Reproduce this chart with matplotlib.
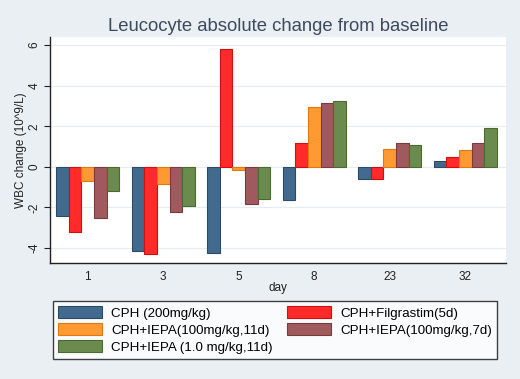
import matplotlib
matplotlib.use("Agg")
import matplotlib.pyplot as plt
import numpy as np
from matplotlib.patches import Patch

plt.rcParams['font.family'] = ['Liberation Sans', 'DejaVu Sans']

days = ["1", "3", "5", "8", "23", "32"]
series_names = ["CPH (200mg/kg)", "CPH+Filgrastim(5d)", "CPH+IEPA(100mg/kg,11d)",
                "CPH+IEPA(100mg/kg,7d)", "CPH+IEPA (1.0 mg/kg,11d)"]
cph = [-2.41, -4.17, -4.23, -1.62, -0.62, 0.30]
filgrastim = [-3.22, -4.30, 5.83, 1.18, -0.62, 0.49]
iepa_100_11 = [-0.69, -0.87, -0.18, 2.97, 0.89, 0.82]
iepa_100_7 = [-2.51, -2.22, -1.82, 3.17, 1.18, 1.18]
iepa_1_11 = [-1.20, -1.94, -1.57, 3.24, 1.07, 1.89]

values = [cph, filgrastim, iepa_100_11, iepa_100_7, iepa_1_11]
colors = ["#426a8e", "#ff2a2a", "#ff9a33", "#a05a5e", "#6a8a4e"]
edges = ["#2a4a68", "#d01010", "#e07a10", "#7a3a40", "#4a6a30"]

bg = "#e9eff2"
fig = plt.figure(figsize=(5.2, 3.79), dpi=100, facecolor=bg)
ax = fig.add_axes([50/520, 1-263/379, 456/520, 226/379])
ax.set_facecolor("white")

x = np.arange(len(days))
w = 0.168
for i, (vals, c, e) in enumerate(zip(values, colors, edges)):
    ax.bar(x + (i - 2) * w, vals, width=w, color=c, edgecolor=e, linewidth=0.8, zorder=3)

ax.set_xlim(-0.5, 5.54)
ax.set_ylim(-4.74, 6.4)
ax.set_yticks([-4, -2, 0, 2, 4, 6])
ax.set_yticklabels(["-4", "-2", "0", "2", "4", "6"], rotation=90, va="center")
ax.set_xticks(x)
ax.set_xticklabels(days)
ax.grid(axis="y", color="#e6ecef", linewidth=0.8, zorder=0)
ax.tick_params(axis="x", length=0, labelsize=8.5, colors="#222222", pad=6)
ax.tick_params(axis="y", length=4, labelsize=8.5, colors="#222222", pad=3)
for s in ["top", "right"]:
    ax.spines[s].set_visible(False)
for s in ["left", "bottom"]:
    ax.spines[s].set_color("#222222")
    ax.spines[s].set_linewidth(1.0)

ax.set_xlabel("day", fontsize=8.5, color="#222222", labelpad=-1)
ax.set_ylabel("WBC change (10^9/L)", fontsize=8.5, color="#222222", labelpad=1)
ax.set_title("Leucocyte absolute change from baseline", fontsize=13.3, color="#3d4a5e", pad=4)

handles = [Patch(facecolor=c, edgecolor=e, linewidth=0.8) for c, e in zip(colors, edges)]
order = [0, 2, 4, 1, 3]
leg = fig.legend([handles[i] for i in order], [series_names[i] for i in order],
                 ncol=2, loc="upper left", bbox_to_anchor=(53/520, 1-301/379),
                 frameon=True, fontsize=9.6, handlelength=3.3, handleheight=1.0,
                 handletextpad=0.65, columnspacing=1.1, labelspacing=0.25,
                 borderpad=0.4, borderaxespad=0,
                 fancybox=False, edgecolor="#111111")
leg.get_frame().set_linewidth(1.0)

fig.savefig("out.png", dpi=100, facecolor=bg)
